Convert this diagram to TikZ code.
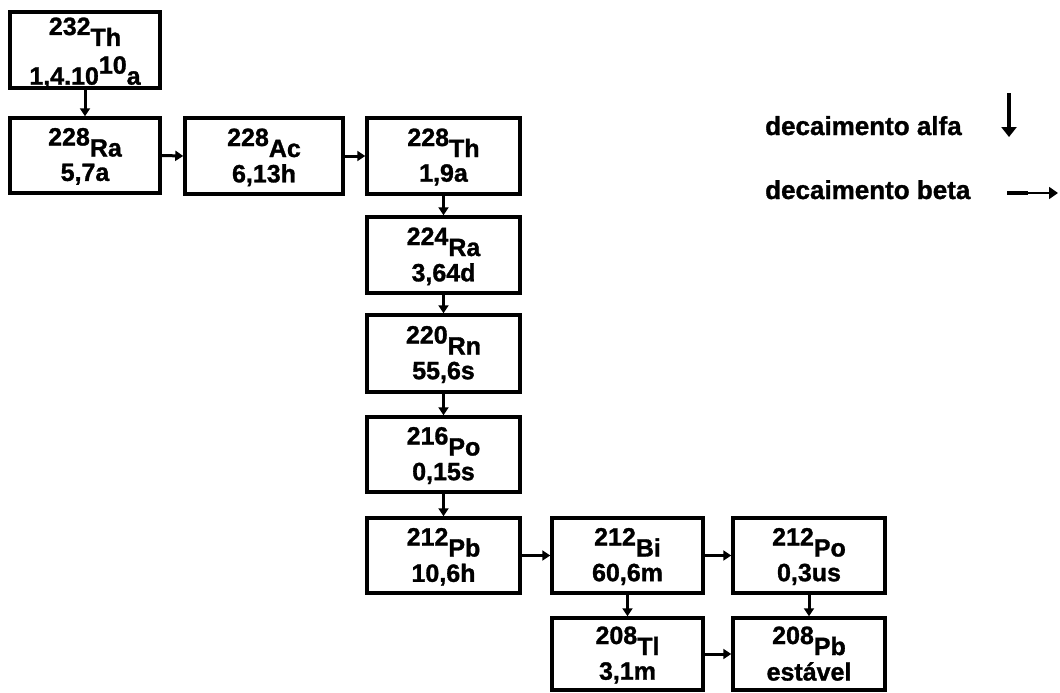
\documentclass[tikz,border=0pt]{standalone}
\usepackage{fontspec}
\setmainfont{Liberation Sans}[BoldFeatures={FakeBold=1.2}]
\usetikzlibrary{arrows.meta}
\newcommand\isotope[4][0pt]{\raisebox{#1}[0pt][0pt]{\begin{tabular}[t]{@{}c@{}}\raisebox{11pt}{#2}#3\\#4\end{tabular}}}
\tikzset{
  box/.style={draw, line width=3.5pt, inner sep=0pt, align=center,
    font=\bfseries\fontsize{25}{24}\selectfont},
  alphaarr/.style={line width=3pt, -{Triangle[length=8pt,width=10pt]}},
  betaarr/.style={line width=3pt, -{Triangle[length=8pt,width=10pt]}},
  legend/.style={font=\bfseries\fontsize{26}{28}\selectfont, inner sep=0pt, anchor=base west}
}
\begin{document}
\begin{tikzpicture}[x=1pt,y=-1pt]
\useasboundingbox (0,0) rectangle (1060,693);
\fill[white] (0,0) rectangle (1060,693);
% boxes
\node[box, minimum width=150pt, minimum height=76pt] (th232) at (85,50)
  {\raisebox{4pt}[0pt][0pt]{\begin{tabular}[t]{@{}c@{}}\raisebox{11pt}{232}Th\\[3pt]1,4.10\raisebox{11pt}{10}a\end{tabular}}};
\node[box, minimum width=150pt, minimum height=75pt] (ra228) at (85,155.5) {\isotope[-1pt]{228}{Ra}{5,7a}};
\node[box, minimum width=158pt, minimum height=76pt] (ac228) at (264,156) {\isotope[-1pt]{228}{Ac}{6,13h}};
\node[box, minimum width=153pt, minimum height=76pt] (th228) at (443.5,156) {\isotope[-1pt]{228}{Th}{1,9a}};
\node[box, minimum width=153pt, minimum height=76pt] (ra224) at (443.5,255) {\isotope[-1pt]{224}{Ra}{3,64d}};
\node[box, minimum width=153pt, minimum height=77pt] (rn220) at (443.5,353.5) {\isotope[-1pt]{220}{Rn}{55,6s}};
\node[box, minimum width=153pt, minimum height=75pt] (po216) at (443.5,454.5) {\isotope[-1pt]{216}{Po}{0,15s}};
\node[box, minimum width=153pt, minimum height=75pt] (pb212) at (443.5,555.5) {\isotope[-1pt]{212}{Pb}{10,6h}};
\node[box, minimum width=151pt, minimum height=75pt] (bi212) at (627.5,555.5) {\isotope[-1pt]{212}{Bi}{60,6m}};
\node[box, minimum width=152pt, minimum height=75pt] (po212) at (809,555.5) {\isotope[-1pt]{212}{Po}{0,3us}};
\node[box, minimum width=151pt, minimum height=72pt] (tl208) at (627.5,654) {\isotope[-1pt]{208}{Tl}{3,1m}};
\node[box, minimum width=152pt, minimum height=72pt] (pb208) at (809,654) {\isotope[-1pt]{208}{Pb}{estável}};
% alpha decays
\draw[alphaarr] (th232.south) -- (ra228.north);
\draw[alphaarr] (th228.south) -- (ra224.north);
\draw[alphaarr] (ra224.south) -- (rn220.north);
\draw[alphaarr] (rn220.south) -- (po216.north);
\draw[alphaarr] (po216.south) -- (pb212.north);
\draw[alphaarr] (bi212.south) -- (tl208.north);
\draw[alphaarr] (po212.south) -- (pb208.north);
% beta decays
\draw[betaarr] (ra228.east) -- (ac228.west);
\draw[betaarr] (ac228.east) -- (th228.west);
\draw[betaarr] (pb212.east) -- (bi212.west);
\draw[betaarr] (bi212.east) -- (po212.west);
\draw[betaarr] (tl208.east) -- (pb208.west);
% legend
\node[legend] (lalfa) at (765,135) {decaimento alfa};
\node[legend] (lbeta) at (765,199) {decaimento beta};
\coordinate (a1) at (1009,93);
\coordinate (a2) at (1009,137);
\draw[line width=4.5pt, -{Triangle[length=10pt,width=15pt]}] (a1) -- (a2);
\coordinate (b1) at (1007,193);
\coordinate (bm) at (1028,193);
\coordinate (b2) at (1058,193);
\draw[line width=3.5pt] (b1) -- (bm);
\draw[line width=1.8pt, -{Triangle[length=9pt,width=12pt]}] (bm) -- (b2);
\end{tikzpicture}
\end{document}
